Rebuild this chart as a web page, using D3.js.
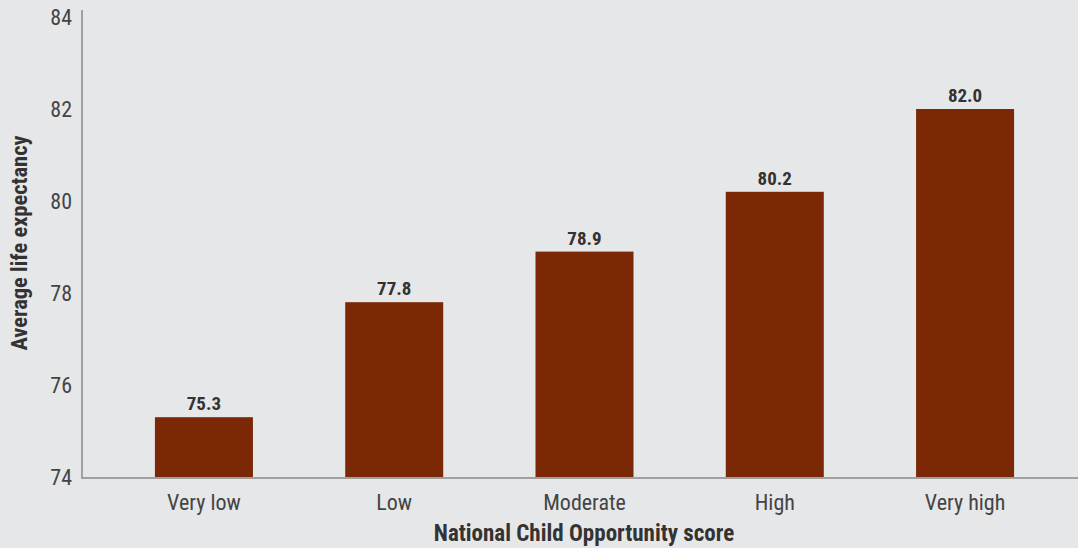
<!DOCTYPE html>
<html>
<head>
<meta charset="utf-8">
<script src="https://cdn.jsdelivr.net/npm/d3@7/dist/d3.min.js"></script>
<style>
  html, body { margin: 0; padding: 0; background: #e6e7e9; }
  svg { display: block; }
  text { font-family: "Liberation Sans Narrow", "Arial Narrow", "Roboto Condensed", sans-serif; }
</style>
</head>
<body>
<svg id="chart" width="1078" height="548"></svg>
<script>
// Average life expectancy by national Child Opportunity level
const categories = ["Very low", "Low", "Moderate", "High", "Very high"];
const lifeExpectancy = [75.3, 77.8, 78.9, 80.2, 82.0];
const yTicks = [74, 76, 78, 80, 82, 84];

const W = 1078, H = 548;
const axisX = 82, axisBottom = 477, axisTop = 10;

const svg = d3.select("#chart");
svg.append("rect").attr("width", W).attr("height", H).attr("fill", "#e6e7e9");

const x = d3.scaleBand()
  .domain(categories)
  .range([91, 1078])
  .paddingInner(0.485)
  .paddingOuter(0.336);

const y = d3.scaleLinear()
  .domain([74, 84])
  .range([axisBottom, 17]);

// bars
svg.append("g").selectAll("rect")
  .data(categories)
  .join("rect")
  .attr("x", d => x(d))
  .attr("width", x.bandwidth())
  .attr("y", (d, i) => y(lifeExpectancy[i]))
  .attr("height", (d, i) => y(74) - y(lifeExpectancy[i]))
  .attr("fill", "#7a2806");

// value labels
svg.append("g").selectAll("text")
  .data(categories)
  .join("text")
  .attr("x", d => x(d) + x.bandwidth() / 2)
  .attr("y", (d, i) => y(lifeExpectancy[i]) - 7)
  .attr("text-anchor", "middle")
  .attr("font-size", 19)
  .attr("font-weight", "bold")
  .attr("fill", "#333")
  .text((d, i) => lifeExpectancy[i].toFixed(1));

// y axis
const yAxis = d3.axisLeft(y).tickValues(yTicks).tickSize(0).tickPadding(10).tickFormat(d3.format("d"));
const gy = svg.append("g").attr("transform", `translate(${axisX},0)`).call(yAxis);
gy.select(".domain").remove();
gy.selectAll("text").attr("font-size", 22).attr("fill", "#444")
  .attr("font-family", "'Liberation Sans Narrow', sans-serif");
svg.append("line")
  .attr("x1", axisX).attr("x2", axisX)
  .attr("y1", axisTop).attr("y2", axisBottom + 1)
  .attr("stroke", "#a0a0a0").attr("stroke-width", 2);

// x axis
const xAxis = d3.axisBottom(x).tickSize(0).tickPadding(17);
const gx = svg.append("g").attr("transform", `translate(0,${axisBottom})`).call(xAxis);
gx.select(".domain").remove();
gx.selectAll("text").attr("font-size", 22).attr("fill", "#444")
  .attr("font-family", "'Liberation Sans Narrow', sans-serif");
svg.append("line")
  .attr("x1", axisX - 1).attr("x2", W)
  .attr("y1", axisBottom + 1).attr("y2", axisBottom + 1)
  .attr("stroke", "#a0a0a0").attr("stroke-width", 2);

// axis titles
svg.append("text")
  .attr("x", 584).attr("y", 541)
  .attr("text-anchor", "middle")
  .attr("font-size", 23).attr("font-weight", "bold").attr("fill", "#333")
  .text("National Child Opportunity score");

svg.append("text")
  .attr("transform", "translate(27,243) rotate(-90)")
  .attr("text-anchor", "middle")
  .attr("font-size", 22.5).attr("font-weight", "bold").attr("fill", "#333")
  .text("Average life expectancy");
</script>
</body>
</html>
